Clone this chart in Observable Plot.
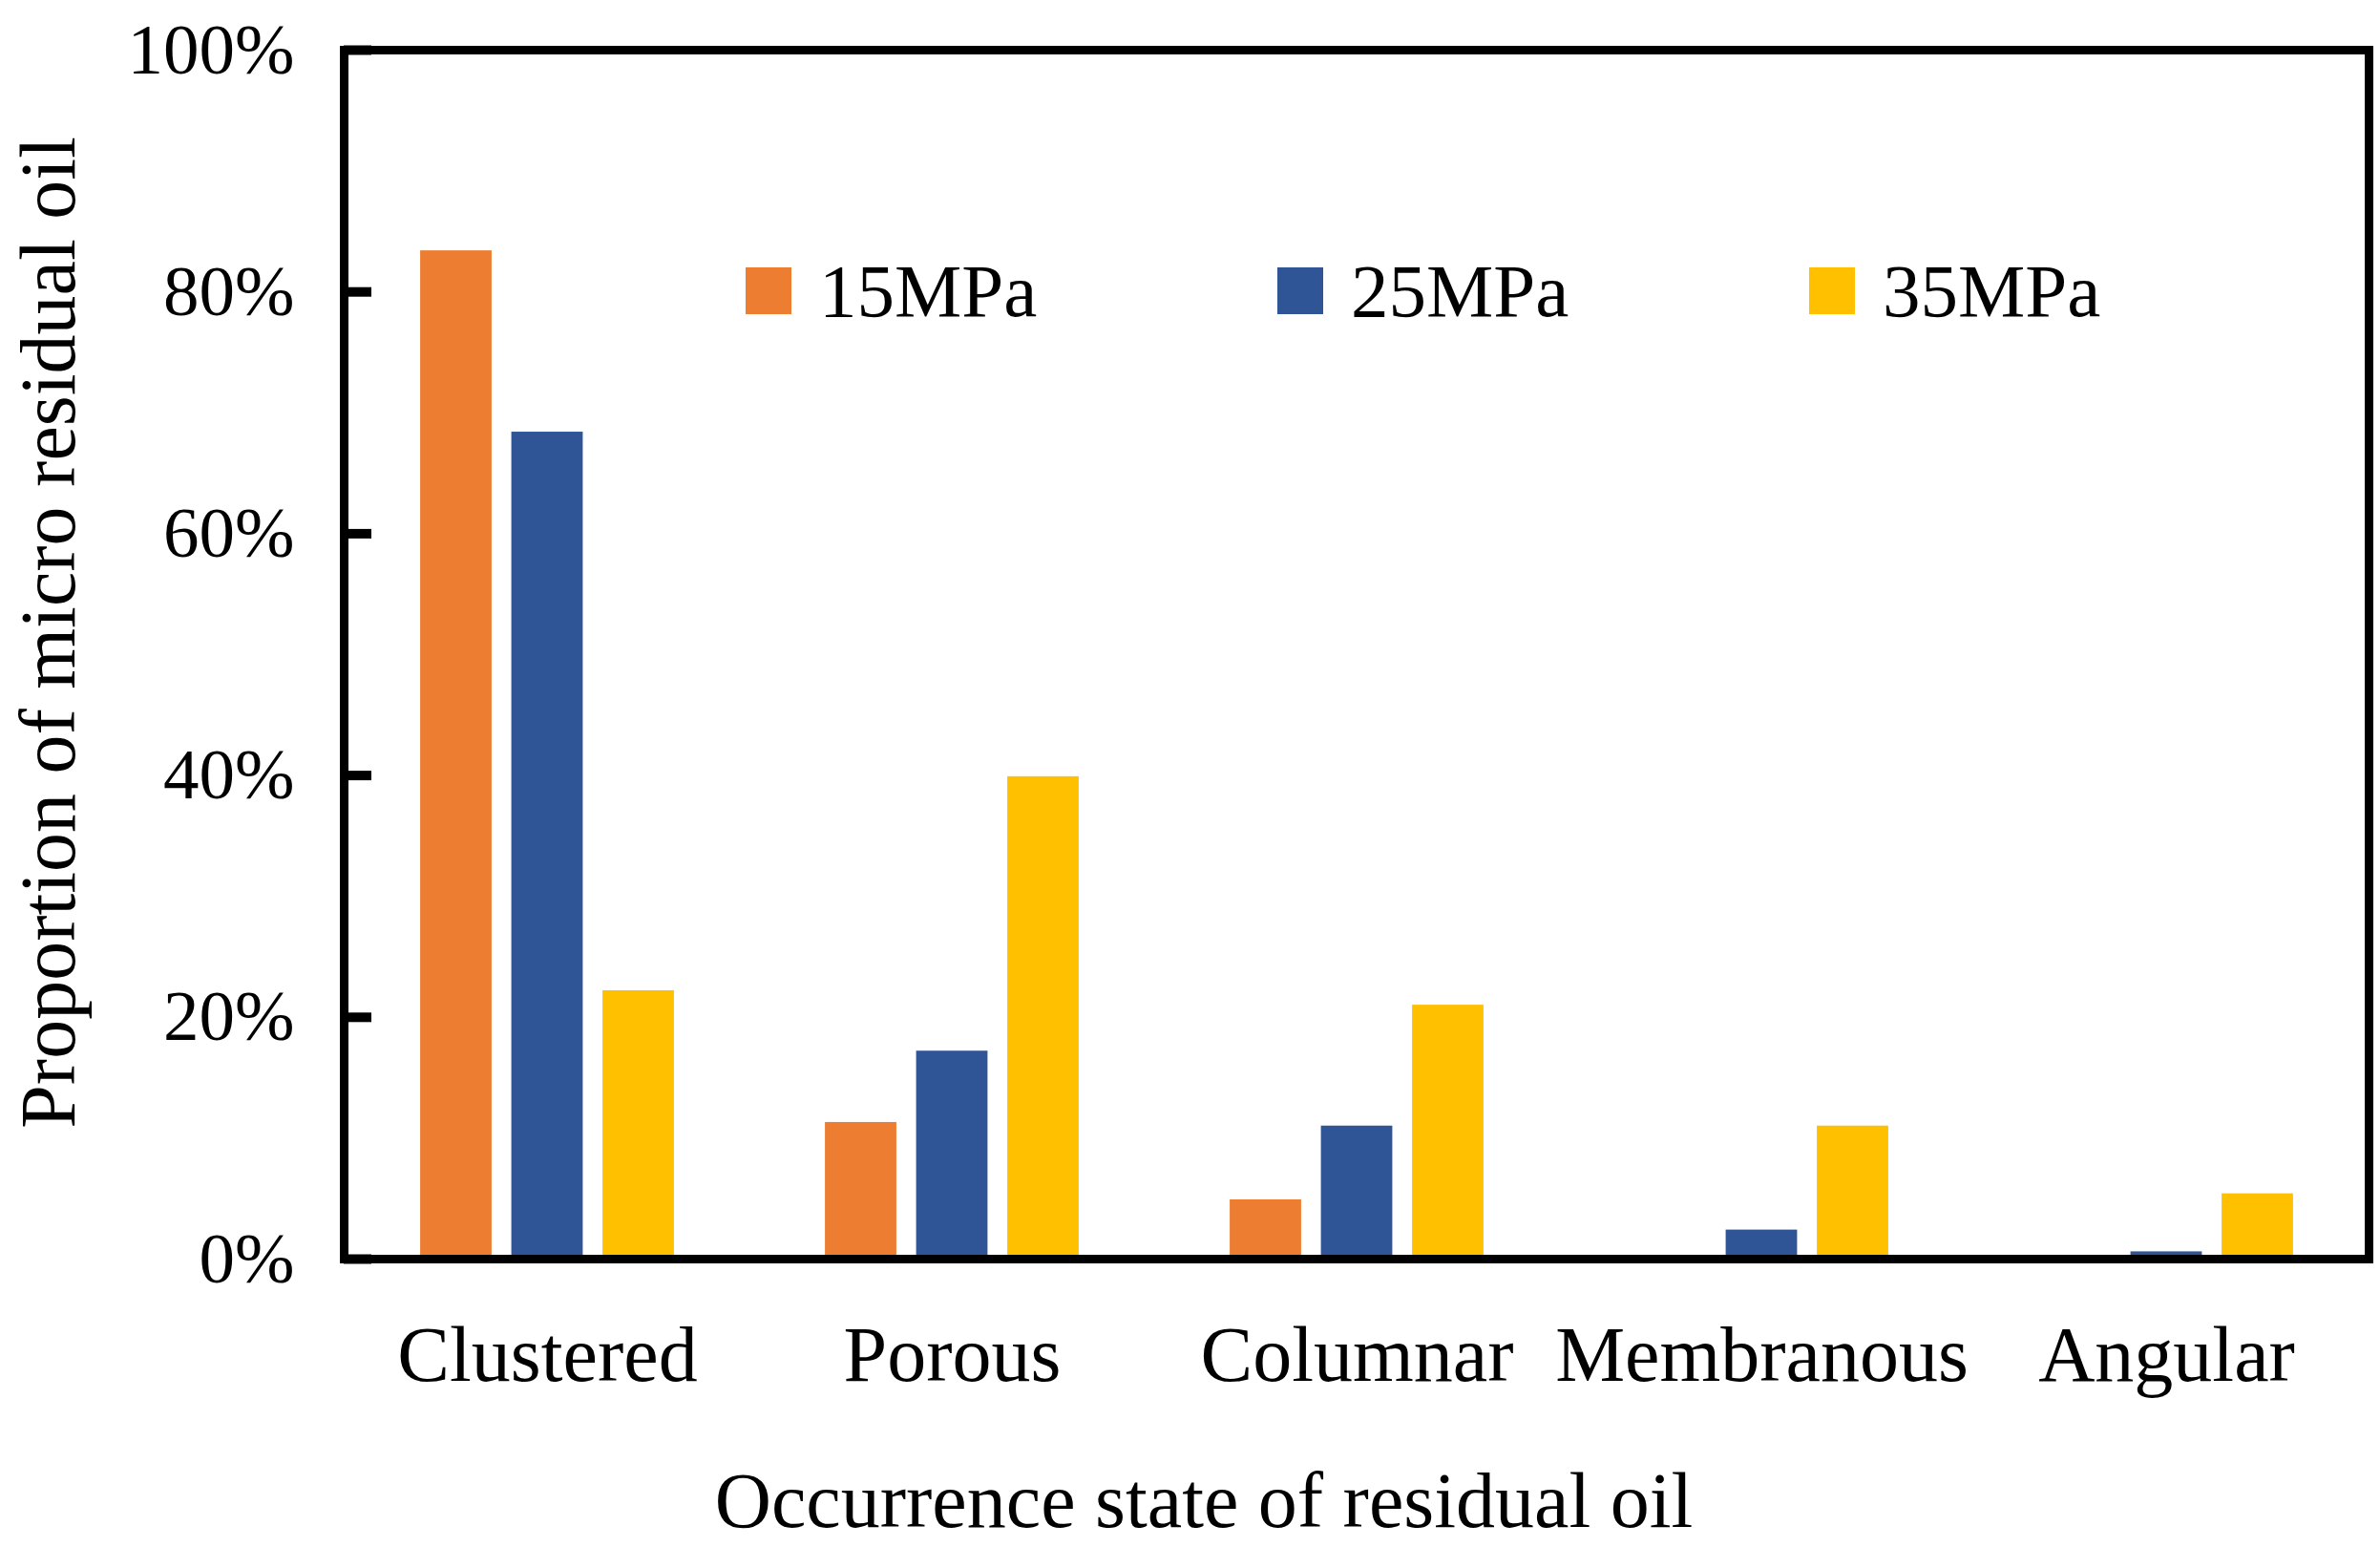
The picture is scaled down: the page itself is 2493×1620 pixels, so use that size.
<!DOCTYPE html>
<html><head><meta charset="utf-8">
<script src="https://cdn.jsdelivr.net/npm/d3@7"></script>
<script src="https://cdn.jsdelivr.net/npm/@observablehq/plot@0.6"></script>
<style>
body{margin:0;background:#fff}
#wrap{position:relative;width:2493px;height:1620px;font-family:"Liberation Serif",serif;color:#000}
#legend{position:absolute;left:781px;top:265px;height:79px;display:flex;align-items:center}
.item{display:flex;align-items:center;width:557px;height:79px}
.sw{width:48px;height:49px;margin-right:29px}
.lt{font-size:79px;line-height:1}
</style>
</head><body><div id="wrap"></div>
<script>
const categories = ["Clustered","Porous","Columnar","Membranous","Angular"];
const series = ["15MPa","25MPa","35MPa"];
const values15 = [83.4, 11.3, 4.9, 0, 0];
const values25 = [68.4, 17.2, 11.0, 2.4, 0.6];
const values35 = [22.2, 39.9, 21.0, 11.0, 5.4];
const colors = ["#ED7D31","#2F5597","#FFC000"];
const yTicks = [0,20,40,60,80,100];
const xLabel = "Occurrence state of residual oil";
const yLabel = "Proportion of micro residual oil";

const W = 2493, H = 1620;
const mL = 360, mR = 12, mT = 52, mB = 302;
const bandW = (W - mL - mR) / categories.length;
const barW = 75, step = 95.5;
const inset = (bandW - barW) / 2;

const seriesValues = [values15, values25, values35];
const data = [];
series.forEach((s, i) => categories.forEach((c, j) => data.push({category: c, series: s, value: seriesValues[i][j]})));

const barMarks = series.map((s, i) => Plot.barY(data.filter(d => d.series === s), {
  x: "category", y: "value", fill: "series",
  insetLeft: inset, insetRight: inset, dx: (i - 1) * step
}));

const chart = Plot.plot({
  width: W, height: H,
  marginLeft: mL, marginRight: mR, marginTop: mT, marginBottom: mB,
  style: {fontFamily: "'Liberation Serif', serif", color: "#000", background: "#fff"},
  x: {domain: categories, paddingInner: 0, paddingOuter: 0, axis: null, label: null},
  y: {domain: [0, 100], axis: null, label: null},
  color: {domain: series, range: colors},
  marks: [
    ...barMarks,
    Plot.axisY(yTicks, {tickSize: -29, strokeWidth: 10, tickFormat: () => "", stroke: "#000", label: null}),
    Plot.axisY(yTicks, {tickSize: 0, tickPadding: 52, tickFormat: d => d + "%", fontSize: 75, fill: "#000", label: null}),
    Plot.axisX(categories, {tickSize: 0, tickPadding: 69, fontSize: 82, fill: "#000", label: null}),
    Plot.frame({stroke: "#000", strokeWidth: 9}),
    Plot.text([xLabel], {frameAnchor: "bottom", text: d => d, fontSize: 82, fill: "#000", dy: 254, dx: -160, lineAnchor: "middle", textAnchor: "middle"}),
    Plot.text([yLabel], {frameAnchor: "left", text: d => d, fontSize: 82, fill: "#000", rotate: -90, dx: -309, dy: -23, lineAnchor: "middle", textAnchor: "middle"})
  ]
});

const wrap = document.getElementById("wrap");
wrap.appendChild(chart);
const legend = document.createElement("div");
legend.id = "legend";
series.forEach((s, i) => {
  const it = document.createElement("div");
  it.className = "item";
  const sw = document.createElement("div");
  sw.className = "sw";
  sw.style.background = colors[i];
  const t = document.createElement("span");
  t.className = "lt";
  t.textContent = s;
  it.appendChild(sw); it.appendChild(t);
  legend.appendChild(it);
});
wrap.appendChild(legend);
</script>
</body></html>
